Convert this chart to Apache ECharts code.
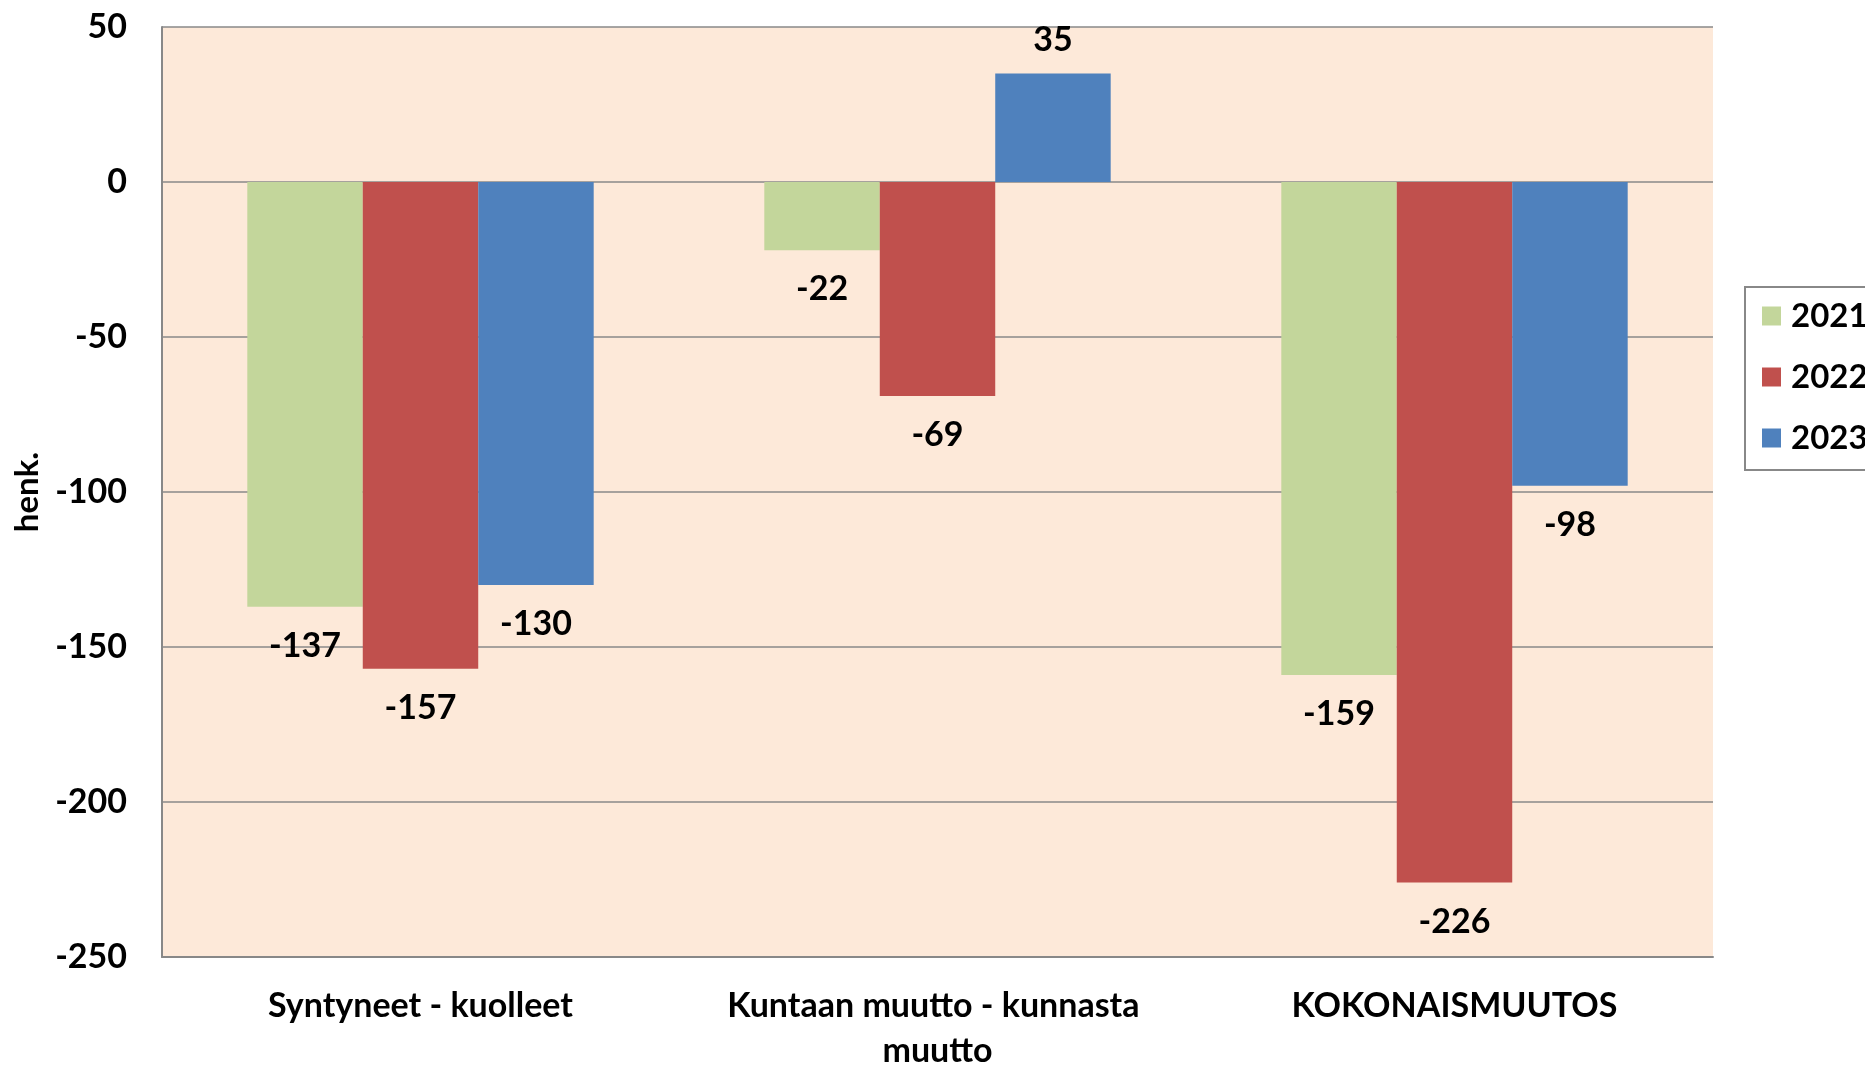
<!DOCTYPE html>
<html>
<head>
<meta charset="utf-8">
<script src="https://cdn.jsdelivr.net/npm/echarts@6/dist/echarts.min.js"></script>
<style>
html,body{margin:0;padding:0;background:#fff;}
#c{width:1865px;height:1067px;}
</style>
</head>
<body>
<div id="c"></div>
<script>
const categories = ['Syntyneet - kuolleet', 'Kuntaan muutto - kunnasta muutto', 'KOKONAISMUUTOS'];
const seriesNames = ['2021', '2022', '2023'];
const values2021 = [-137, -22, -159];
const values2022 = [-157, -69, -226];
const values2023 = [-130, 35, -98];
const colors = ['#C3D69B', '#C0504D', '#4F81BD'];
const yTicks = { min: -250, max: 50, interval: 50 };

const FONT = 'Lato, "Open Sans", sans-serif';
const chart = echarts.init(document.getElementById('c'), null, { renderer: 'canvas' });

function mkSeries(name, data, color) {
  return {
    name: name,
    type: 'bar',
    data: data.map(v => ({ value: v, label: { distance: v < 0 ? 22 : 16 } })),
    barGap: '0%',
    barCategoryGap: '33%',
    itemStyle: { color: color },
    label: {
      show: true,
      position: 'outside',
      color: '#000',
      fontFamily: FONT,
      fontWeight: 'bold',
      fontSize: 34
    },
    emphasis: { disabled: true }
  };
}

chart.setOption({
  animation: false,
  textStyle: { fontFamily: FONT },
  grid: {
    left: 162, top: 27, right: 152, bottom: 110,
    outerBoundsMode: 'none', containLabel: false,
    show: true, backgroundColor: '#FDE9D9', borderWidth: 0
  },
  legend: {
    orient: 'vertical',
    left: 1745, top: 287,
    padding: [9, 60, 12, 17],
    itemWidth: 19, itemHeight: 19, itemGap: 21,
    icon: 'rect',
    backgroundColor: '#fff',
    borderColor: '#888888', borderWidth: 2,
    textStyle: { color: '#000', fontFamily: FONT, fontWeight: 'bold', fontSize: 33, lineHeight: 40, padding: [0, 0, 0, 5] },
    data: seriesNames
  },
  xAxis: {
    type: 'category',
    data: categories,
    axisLine: { show: true, onZero: false, lineStyle: { color: '#888888', width: 2 } },
    axisTick: { show: false },
    axisLabel: {
      interval: 0, margin: 27, color: '#000', fontFamily: FONT, fontWeight: 'bold',
      fontSize: 34, lineHeight: 45, width: 450, overflow: 'break'
    }
  },
  yAxis: {
    type: 'value',
    min: yTicks.min, max: yTicks.max, interval: yTicks.interval,
    name: 'henk.',
    nameLocation: 'middle',
    nameGap: 116,
    nameRotate: 90,
    nameTextStyle: { color: '#000', fontFamily: FONT, fontWeight: 'bold', fontSize: 33 },
    axisLine: { show: true, lineStyle: { color: '#888888', width: 2 } },
    axisTick: { show: false },
    axisLabel: { margin: 35, color: '#000', fontFamily: FONT, fontWeight: 'bold', fontSize: 34 },
    splitLine: { show: true, lineStyle: { color: '#888888', width: 1.5 } }
  },
  series: [
    mkSeries(seriesNames[0], values2021, colors[0]),
    mkSeries(seriesNames[1], values2022, colors[1]),
    mkSeries(seriesNames[2], values2023, colors[2])
  ]
});
</script>
</body>
</html>
